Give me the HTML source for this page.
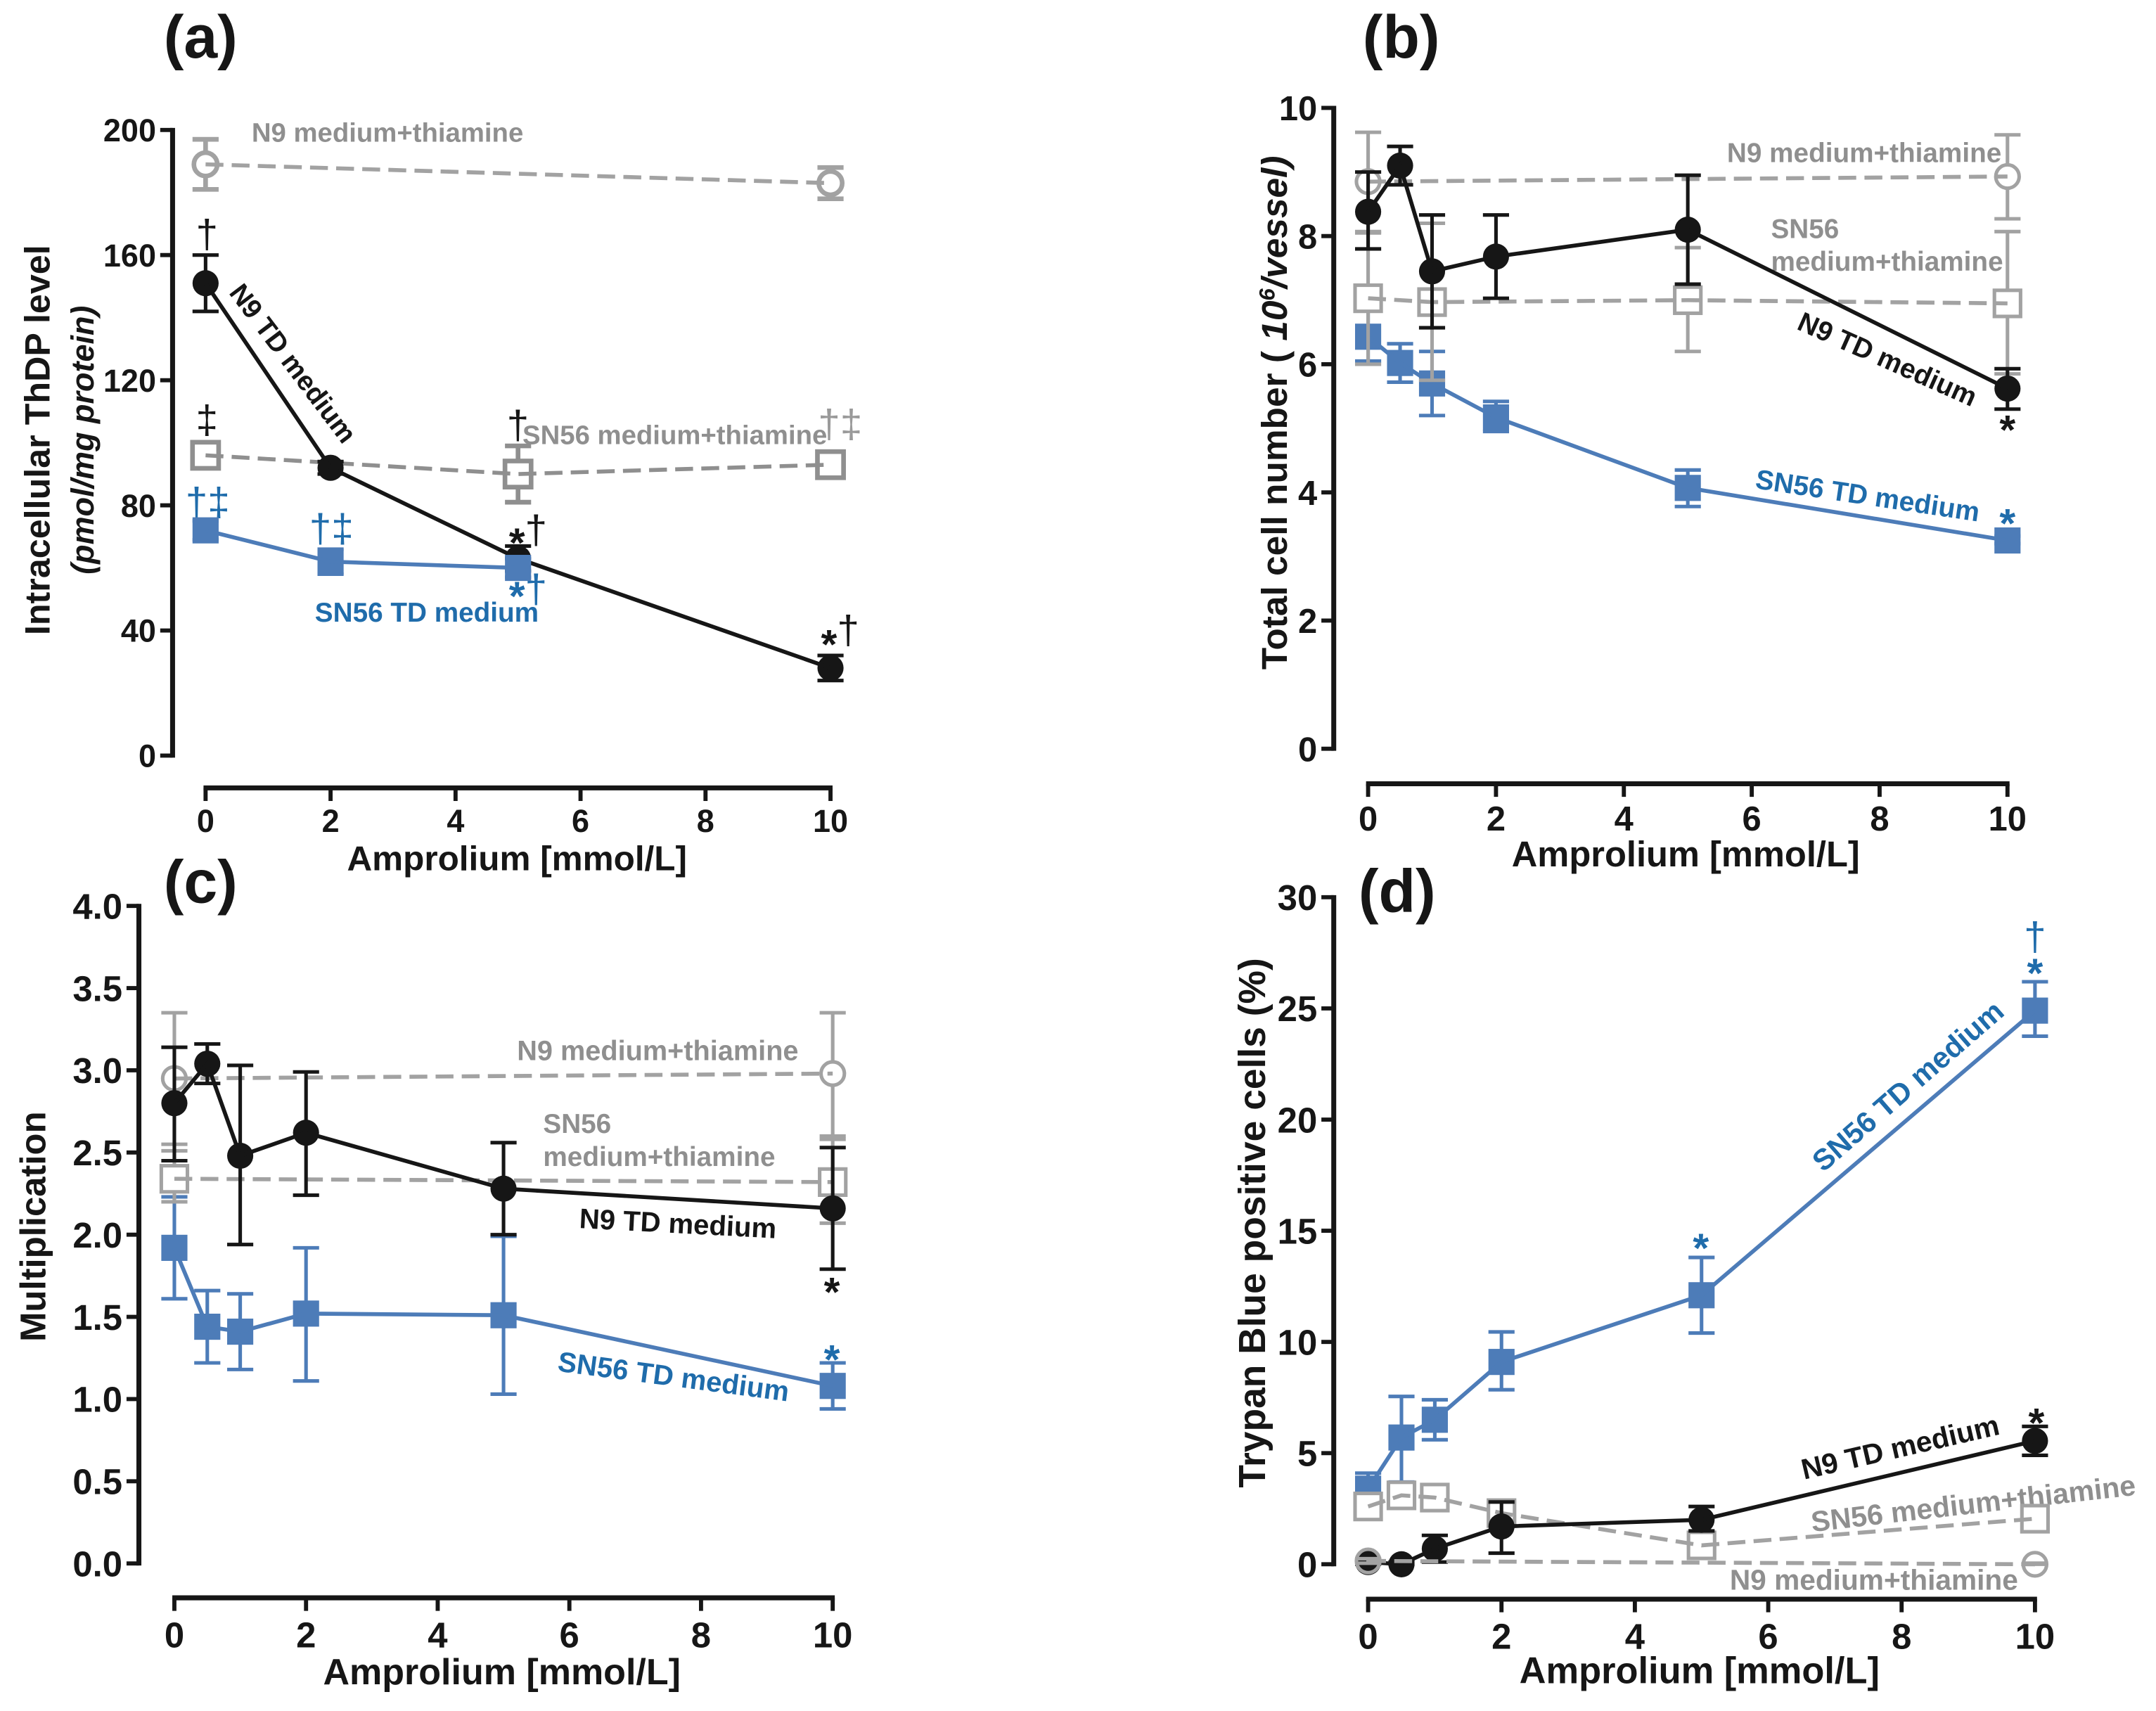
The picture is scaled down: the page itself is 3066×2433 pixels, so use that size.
<!DOCTYPE html>
<html lang="en">
<head>
<meta charset="utf-8">
<title>Amprolium dose-response charts</title>
<style>
html,body{margin:0;padding:0;background:#fff;}
svg{display:block;}
text{font-family:"Liberation Sans",Arial,sans-serif;font-weight:bold;}
.gray{fill:#8f8f8f;}
.blue{fill:#1f6cab;}
.blk{fill:#161616;}
.mark{font-weight:normal;}
.star{font-weight:bold;font-size:30px;}
</style>
</head>
<body>
<svg id="figure" xmlns="http://www.w3.org/2000/svg" width="3066" height="2433" viewBox="0 0 1568 1244.3">
<rect width="1568" height="1244.3" fill="#fff"/>

<!-- Panel letters -->
<text x="119" y="42" font-size="44" class="blk">(a)</text>
<text x="991" y="42" font-size="44" class="blk">(b)</text>
<text x="119" y="656.5" font-size="44" class="blk">(c)</text>
<text x="988" y="663" font-size="44" class="blk">(d)</text>

<!-- Panel a text -->
<text transform="translate(36,320) rotate(-90)" text-anchor="middle" font-size="25.7" class="blk">Intracellular ThDP level</text>
<text transform="translate(68,320) rotate(-90)" text-anchor="middle" font-size="23" font-style="italic" class="blk">(pmol/mg protein)</text>
<text x="376" y="633" text-anchor="middle" font-size="25.3" class="blk">Amprolium [mmol/L]</text>
<text x="183" y="103" font-size="19.6" class="gray">N9 medium+thiamine</text>
<text x="380" y="323" font-size="19.6" class="gray">SN56 medium+thiamine</text>
<text x="229" y="452" font-size="19.8" class="blue">SN56 TD medium</text>
<text transform="translate(166,213) rotate(53)" font-size="19.8" class="blk">N9 TD medium</text>
<g font-size="29" class="mark" text-anchor="middle">
<text x="150.5" y="180" class="blk mark">†</text>
<text x="150.5" y="315" class="blk mark">‡</text>
<text x="151" y="375" class="blue mark">†‡</text>
<text x="241" y="394" class="blue mark">†‡</text>
<text x="376.6" y="319" class="blk mark">†</text>
<text x="611" y="318" fill="#9a9a9a" class="mark">†‡</text>
<text x="384" y="395" class="blk mark"><tspan class="star" dy="10">*</tspan><tspan dy="-10">†</tspan></text>
<text x="384" y="438" class="blue mark"><tspan class="star" dy="6">*</tspan><tspan dy="-6">†</tspan></text>
<text x="611" y="468" class="blk mark"><tspan class="star" dy="11">*</tspan><tspan dy="-11">†</tspan></text>
</g>

<!-- Panel b text -->
<text transform="translate(936,487) rotate(-90)" font-size="26.3" class="blk">Total cell number (<tspan font-style="italic"> 10<tspan dy="-9" font-size="16">6</tspan><tspan dy="9">/vessel)</tspan></tspan></text>
<text x="1226" y="630" text-anchor="middle" font-size="25.9" class="blk">Amprolium [mmol/L]</text>
<text x="1256" y="118" font-size="19.8" class="gray">N9 medium+thiamine</text>
<text x="1288" y="173" font-size="19.8" class="gray">SN56</text>
<text x="1288" y="197" font-size="19.8" class="gray">medium+thiamine</text>
<text transform="translate(1306,239) rotate(24)" font-size="20" class="blk">N9 TD medium</text>
<text transform="translate(1276,355) rotate(8.5)" font-size="20" class="blue">SN56 TD medium</text>
<text x="1460" y="391" text-anchor="middle" class="blue star">*</text>
<text x="1460" y="323" text-anchor="middle" class="blk star">*</text>

<!-- Panel c text -->
<text transform="translate(33,892) rotate(-90)" text-anchor="middle" font-size="26" class="blk">Multiplication</text>
<text x="365" y="1225" text-anchor="middle" font-size="26.6" class="blk">Amprolium [mmol/L]</text>
<text x="376" y="771" font-size="20.3" class="gray">N9 medium+thiamine</text>
<text x="395" y="824" font-size="19.8" class="gray">SN56</text>
<text x="395" y="848" font-size="19.8" class="gray">medium+thiamine</text>
<text transform="translate(421,893) rotate(3)" font-size="20.5" class="blk">N9 TD medium</text>
<text transform="translate(405,997) rotate(7.5)" font-size="20.6" class="blue">SN56 TD medium</text>
<text x="605" y="950" text-anchor="middle" class="blk star">*</text>
<text x="605" y="999" text-anchor="middle" class="blue star">*</text>

<!-- Panel d text -->
<text transform="translate(920,1082) rotate(-90)" font-size="27.3" class="blk">Trypan Blue positive cells (%)</text>
<text x="1236" y="1224" text-anchor="middle" font-size="26.8" class="blk">Amprolium [mmol/L]</text>
<text transform="translate(1326,853) rotate(-41)" font-size="21.4" class="blue">SN56 TD medium</text>
<text transform="translate(1312,1076) rotate(-13)" font-size="21" class="blk">N9 TD medium</text>
<text transform="translate(1318,1114) rotate(-6.5)" font-size="21" class="gray">SN56 medium+thiamine</text>
<text x="1258" y="1156" font-size="20.8" class="gray">N9 medium+thiamine</text>
<text x="1480" y="691" text-anchor="middle" font-size="29" class="blue mark">†</text>
<text x="1480" y="718" text-anchor="middle" class="blue star">*</text>
<text x="1237" y="918" text-anchor="middle" class="blue star">*</text>
<text x="1481" y="1045" text-anchor="middle" class="blk star">*</text>
</svg>

<script>
// ---- shared tick labels ----
const xTickLabels = [0, 2, 4, 6, 8, 10];
const aYTicks = [0, 40, 80, 120, 160, 200];
const bYTicks = [0, 2, 4, 6, 8, 10];
const cYTicks = ["0.0", "0.5", "1.0", "1.5", "2.0", "2.5", "3.0", "3.5", "4.0"];
const dYTicks = [0, 5, 10, 15, 20, 25, 30];

// ---- panel a values ----
const aN9ThiaDose = [0, 10];
const aN9ThiaMean = [189, 183];
const aN9ThiaHigh = [197, 188];
const aN9ThiaLow = [181, 178];
const aSn56ThiaDose = [0, 5, 10];
const aSn56ThiaMean = [96, 90, 93];
const aSn56ThiaHigh = [100, 99, 97];
const aSn56ThiaLow = [92, 81, 89];
const aN9TdDose = [0, 2, 5, 10];
const aN9TdMean = [151, 92, 63, 28];
const aN9TdHigh = [160, 94, 67, 32];
const aN9TdLow = [142, 90, 59, 24];
const aSn56TdDose = [0, 2, 5];
const aSn56TdMean = [72, 62, 60];
const aSn56TdHigh = [75, 66, 63];
const aSn56TdLow = [69, 58, 57];

// ---- panel b values ----
const bN9ThiaDose = [0, 10];
const bN9ThiaMean = [8.85, 8.93];
const bN9ThiaHigh = [9.62, 9.58];
const bN9ThiaLow = [8.07, 8.27];
const bSn56ThiaDose = [0, 1, 5, 10];
const bSn56ThiaMean = [7.03, 6.97, 7.0, 6.95];
const bSn56ThiaHigh = [8.05, 8.2, 7.82, 8.07];
const bSn56ThiaLow = [6.0, 5.75, 6.2, 5.85];
const bN9TdDose = [0, 0.5, 1, 2, 5, 10];
const bN9TdMean = [8.38, 9.1, 7.45, 7.68, 8.1, 5.62];
const bN9TdHigh = [9.0, 9.4, 8.33, 8.33, 8.95, 5.93];
const bN9TdLow = [7.8, 8.8, 6.57, 7.03, 7.25, 5.3];
const bSn56TdDose = [0, 0.5, 1, 2, 5, 10];
const bSn56TdMean = [6.43, 6.02, 5.7, 5.17, 4.07, 3.25];
const bSn56TdHigh = [6.85, 6.32, 6.2, 5.42, 4.35, 3.32];
const bSn56TdLow = [6.05, 5.72, 5.2, 4.95, 3.78, 3.2];

// ---- panel c values ----
const cN9ThiaDose = [0, 10];
const cN9ThiaMean = [2.95, 2.98];
const cN9ThiaHigh = [3.35, 3.35];
const cN9ThiaLow = [2.55, 2.6];
const cSn56ThiaDose = [0, 10];
const cSn56ThiaMean = [2.34, 2.32];
const cSn56ThiaHigh = [2.51, 2.58];
const cSn56ThiaLow = [2.2, 2.07];
const cN9TdDose = [0, 0.5, 1, 2, 5, 10];
const cN9TdMean = [2.8, 3.04, 2.48, 2.62, 2.28, 2.16];
const cN9TdHigh = [3.14, 3.16, 3.03, 2.99, 2.56, 2.53];
const cN9TdLow = [2.45, 2.92, 1.94, 2.24, 2.0, 1.79];
const cSn56TdDose = [0, 0.5, 1, 2, 5, 10];
const cSn56TdMean = [1.92, 1.44, 1.41, 1.52, 1.51, 1.08];
const cSn56TdHigh = [2.23, 1.66, 1.64, 1.92, 1.99, 1.22];
const cSn56TdLow = [1.61, 1.22, 1.18, 1.11, 1.03, 0.94];

// ---- panel d values ----
const dN9ThiaDose = [0, 10];
const dN9ThiaMean = [0.15, 0.0];
const dN9ThiaHigh = [0.25, 0.05];
const dN9ThiaLow = [0.05, 0.0];
const dSn56ThiaDose = [0, 0.5, 1, 2, 5, 10];
const dSn56ThiaMean = [2.6, 3.1, 3.0, 2.3, 0.85, 2.05];
const dSn56ThiaHigh = [2.9, 3.4, 3.3, 2.7, 1.05, 2.2];
const dSn56ThiaLow = [2.3, 2.8, 2.7, 1.9, 0.65, 1.9];
const dN9TdDose = [0, 0.5, 1, 2, 5, 10];
const dN9TdMean = [0.1, 0.0, 0.7, 1.7, 2.0, 5.55];
const dN9TdHigh = [0.2, 0.1, 1.3, 2.8, 2.6, 6.2];
const dN9TdLow = [0.0, 0.0, 0.1, 0.5, 1.5, 4.9];
const dSn56TdDose = [0, 0.5, 1, 2, 5, 10];
const dSn56TdMean = [3.4, 5.7, 6.5, 9.1, 12.1, 24.9];
const dSn56TdHigh = [4.1, 7.55, 7.4, 10.45, 13.8, 26.2];
const dSn56TdLow = [2.5, 3.7, 5.6, 7.85, 10.4, 23.75];

// ---- drawing ----
const NS = 'http://www.w3.org/2000/svg';
const root = document.getElementById('figure');
const GRAY_LINE = '#a2a2a2';
const BLACK = '#161616';
const BLUE = '#4d7cb8';

function node(parent, tag, attrs) {
  const e = document.createElementNS(NS, tag);
  for (const k in attrs) e.setAttribute(k, attrs[k]);
  parent.appendChild(e);
  return e;
}

function makeAxes(id) {
  return {
    x: function (v) { return id.x0 + (v / id.xMax) * (id.x10 - id.x0); },
    y: function (v) { return id.y0 + (v / id.yMax) * (id.yTop - id.y0); }
  };
}

function drawAxes(panel, frame, yTicks) {
  const ax = makeAxes(frame);
  const g = node(root, 'g', {});
  
  
  const yLine = node(g, 'line', { x1: frame.axisX, x2: frame.axisX, y1: ax.y(frame.yMax) - 1.5, y2: ax.y(0) + 1.5, stroke: BLACK, 'stroke-width': 3.6 });
  
  
  yTicks.forEach(function (t) {
    const py = ax.y(Number(t));
    const tick = node(g, 'line', { x1: frame.axisX - 9, x2: frame.axisX, y1: py, y2: py, stroke: BLACK, 'stroke-width': 3 });
    
    
    const lab = node(g, 'text', { x: frame.axisX - 12, y: py + frame.font * 0.36, 'text-anchor': 'end', 'font-size': frame.font, fill: BLACK });
    lab.textContent = t;
    
    
  });
  const xLine = node(g, 'line', { x1: ax.x(0) - 1.5, x2: ax.x(10) + 1.5, y1: frame.axisY, y2: frame.axisY, stroke: BLACK, 'stroke-width': 3.6 });
  
  
  xTickLabels.forEach(function (t) {
    const px = ax.x(t);
    const tick = node(g, 'line', { x1: px, x2: px, y1: frame.axisY, y2: frame.axisY + 9.5, stroke: BLACK, 'stroke-width': 3 });
    
    
    const lab = node(g, 'text', { x: px, y: frame.tickBase, 'text-anchor': 'middle', 'font-size': frame.font, fill: BLACK });
    lab.textContent = t;
    
    
  });
}

function drawSeries(seriesName, frame, dose, mean, high, low, style) {
  const ax = makeAxes(frame);
  const g = node(root, 'g', {});
  
  
  const sw = style.errWidth || 2.6;
  dose.forEach(function (d, i) {
    const px = ax.x(d);
    const bar = node(g, 'path', {
      d: 'M' + (px - 9.5) + ' ' + ax.y(high[i]) + 'H' + (px + 9.5) + 'M' + px + ' ' + ax.y(high[i]) + 'V' + ax.y(low[i]) + 'M' + (px - 9.5) + ' ' + ax.y(low[i]) + 'H' + (px + 9.5),
      fill: 'none', stroke: style.color, 'stroke-width': sw
    });
    
    
  });
  dose.forEach(function (d, i) {
    const px = ax.x(d), py = ax.y(mean[i]);
    let m;
    if (style.shape === 'circle') {
      m = node(g, 'circle', { cx: px, cy: py, r: style.open ? 8.5 : 9.5 });
    } else {
      m = node(g, 'rect', { x: px - 9.5, y: py - 9.5, width: 19, height: 19 });
    }
    m.setAttribute('fill', style.hollow ? 'none' : (style.open ? '#fff' : style.color));
    if (style.open) {
      m.setAttribute('stroke', style.color);
      m.setAttribute('stroke-width', sw);
    }
    
    
  });
  const pts = dose.map(function (d, i) { return ax.x(d) + ',' + ax.y(mean[i]); }).join(' ');
  const line = node(g, 'polyline', { points: pts, fill: 'none', stroke: style.color, 'stroke-width': 2.9 });
  if (style.dash) line.setAttribute('stroke-dasharray', '13 6');
  
  
}

const frameA = { axisX: 125.5, axisY: 573, x0: 149.5, x10: 604, xMax: 10, y0: 549.5, yTop: 94.5, yMax: 200, font: 23, tickBase: 605 };
const frameB = { axisX: 970, axisY: 570, x0: 995, x10: 1460, xMax: 10, y0: 544.5, yTop: 78.5, yMax: 10, font: 25, tickBase: 604 };
const frameC = { axisX: 101, axisY: 1162, x0: 126.8, x10: 605.6, xMax: 10, y0: 1137, yTop: 658.8, yMax: 4, font: 26, tickBase: 1198 };
const frameD = { axisX: 970, axisY: 1163, x0: 995, x10: 1480, xMax: 10, y0: 1137.6, yTop: 652.5, yMax: 30, font: 26, tickBase: 1199 };

const grayCircle = { color: GRAY_LINE, shape: 'circle', open: true, dash: true };
const grayCircleHollow = { color: GRAY_LINE, shape: 'circle', open: true, hollow: true, dash: true };
const graySquare = { color: GRAY_LINE, shape: 'square', open: true, dash: true };
const blackCircle = { color: BLACK, shape: 'circle' };
const blueSquare = { color: BLUE, shape: 'square' };
const grayCircleThick = { color: GRAY_LINE, shape: 'circle', open: true, dash: true, errWidth: 3.4 };
const graySquareThick = { color: '#8f8f8f', shape: 'square', open: true, dash: true, errWidth: 3.4 };

drawAxes('a', frameA, aYTicks);
drawAxes('b', frameB, bYTicks);
drawAxes('c', frameC, cYTicks);
drawAxes('d', frameD, dYTicks);

drawSeries('panel-a-n9-thiamine-series', frameA, aN9ThiaDose, aN9ThiaMean, aN9ThiaHigh, aN9ThiaLow, grayCircleThick);
drawSeries('panel-a-sn56-thiamine-series', frameA, aSn56ThiaDose, aSn56ThiaMean, aSn56ThiaHigh, aSn56ThiaLow, graySquareThick);
drawSeries('panel-a-n9-td-series', frameA, aN9TdDose, aN9TdMean, aN9TdHigh, aN9TdLow, blackCircle);
drawSeries('panel-a-sn56-td-series', frameA, aSn56TdDose, aSn56TdMean, aSn56TdHigh, aSn56TdLow, blueSquare);

drawSeries('panel-b-sn56-td-series', frameB, bSn56TdDose, bSn56TdMean, bSn56TdHigh, bSn56TdLow, blueSquare);
drawSeries('panel-b-n9-thiamine-series', frameB, bN9ThiaDose, bN9ThiaMean, bN9ThiaHigh, bN9ThiaLow, grayCircle);
drawSeries('panel-b-sn56-thiamine-series', frameB, bSn56ThiaDose, bSn56ThiaMean, bSn56ThiaHigh, bSn56ThiaLow, graySquare);
drawSeries('panel-b-n9-td-series', frameB, bN9TdDose, bN9TdMean, bN9TdHigh, bN9TdLow, blackCircle);

drawSeries('panel-c-sn56-td-series', frameC, cSn56TdDose, cSn56TdMean, cSn56TdHigh, cSn56TdLow, blueSquare);
drawSeries('panel-c-n9-thiamine-series', frameC, cN9ThiaDose, cN9ThiaMean, cN9ThiaHigh, cN9ThiaLow, grayCircle);
drawSeries('panel-c-sn56-thiamine-series', frameC, cSn56ThiaDose, cSn56ThiaMean, cSn56ThiaHigh, cSn56ThiaLow, graySquare);
drawSeries('panel-c-n9-td-series', frameC, cN9TdDose, cN9TdMean, cN9TdHigh, cN9TdLow, blackCircle);

drawSeries('panel-d-sn56-td-series', frameD, dSn56TdDose, dSn56TdMean, dSn56TdHigh, dSn56TdLow, blueSquare);
drawSeries('panel-d-sn56-thiamine-series', frameD, dSn56ThiaDose, dSn56ThiaMean, dSn56ThiaHigh, dSn56ThiaLow, graySquare);
drawSeries('panel-d-n9-td-series', frameD, dN9TdDose, dN9TdMean, dN9TdHigh, dN9TdLow, blackCircle);
drawSeries('panel-d-n9-thiamine-series', frameD, dN9ThiaDose, dN9ThiaMean, dN9ThiaHigh, dN9ThiaLow, grayCircleHollow);
</script>
</body>
</html>
